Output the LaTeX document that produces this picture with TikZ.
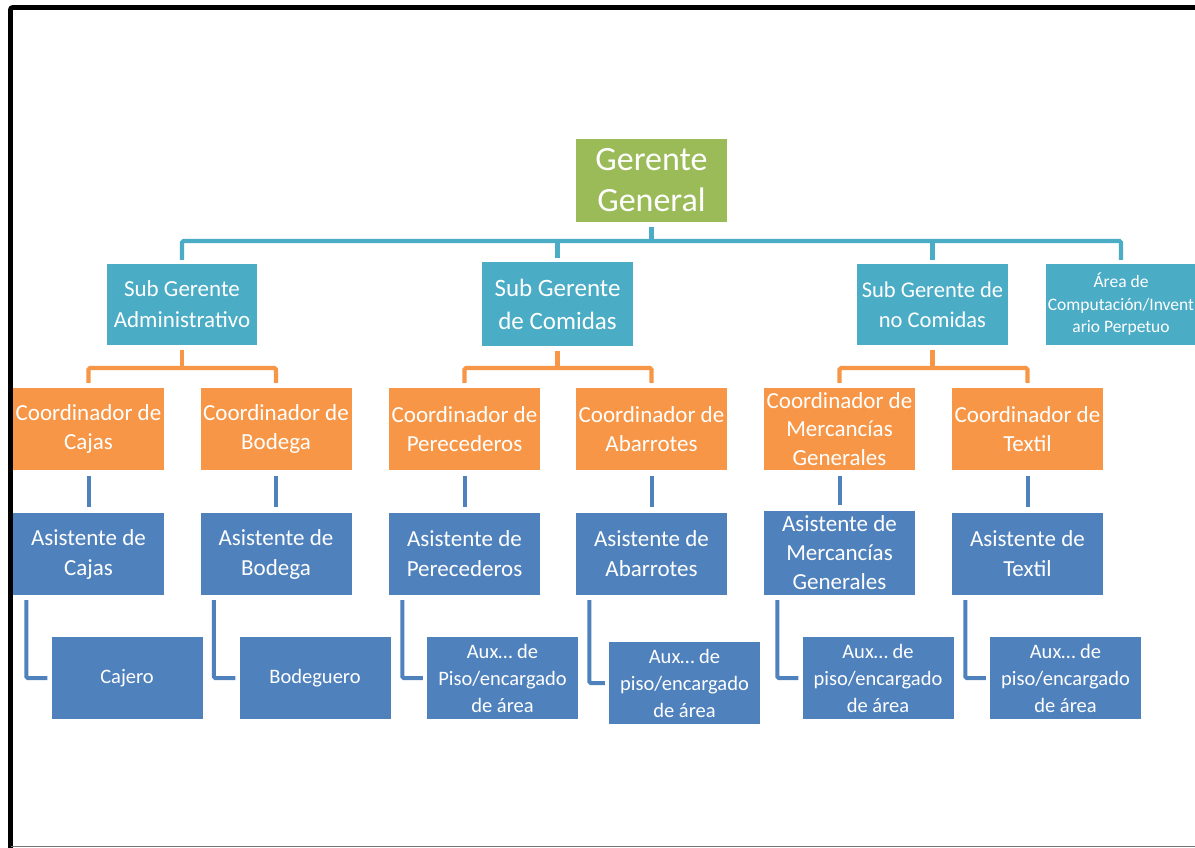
\documentclass[tikz,border=0pt]{standalone}
\usepackage{fontspec}
\setmainfont{Carlito}
\definecolor{cgreen}{HTML}{9BBB59}
\definecolor{cteal}{HTML}{4BACC6}
\definecolor{corange}{HTML}{F79646}
\definecolor{cblue}{HTML}{4F81BD}
\newcommand{\fs}[2]{\fontsize{#1}{#2}\selectfont}
\tikzset{
  box/.style={minimum width=151pt, minimum height=82pt, inner sep=0pt,
    align=center, text=white},
  gbox/.style={box, fill=cgreen, font=\fs{34}{41}},
  sbox/.style={box, fill=cteal, font=\fs{23}{31}},
  obox/.style={box, fill=corange, font=\fs{23}{28.5}},
  abox/.style={box, fill=cblue, font=\fs{23}{30}},
  xbox/.style={box, fill=cblue, font=\fs{20.5}{27}},
  tline/.style={draw=cteal, line width=4.2pt, rounded corners=1.5pt},
  oline/.style={draw=corange, line width=4.2pt, rounded corners=1.5pt},
  bline/.style={draw=cblue, line width=4pt, rounded corners=1.5pt},
}
\begin{document}
\begin{tikzpicture}[x=1pt, y=-1pt]
\useasboundingbox (0,0) rectangle (1195,848);
\clip (0,0) rectangle (1195,848);
\fill[white] (0,0) rectangle (1195,848);

% frame
\draw[black, line width=4.6pt, rounded corners=2pt] (10.5,848) -- (10.5,7.5) -- (1200,7.5);
\draw[black!55, line width=1.2pt] (10.5,846.5) -- (1195,846.5);

% top level
\node[gbox] (gg) at (651.5,180.5) {Gerente\\General};

% second level
\node[sbox, minimum width=150pt, minimum height=81pt] (sgA) at (182,304.5) {Sub Gerente\\Administrativo};
\node[sbox, minimum height=84pt, font=\fs{25}{33}] (sgC) at (557.5,304) {Sub Gerente\\de Comidas};
\node[sbox, minimum height=81pt, font=\fs{22.5}{30}] (sgN) at (932.5,304.5) {Sub Gerente de\\no Comidas};
\node[sbox, minimum width=150pt, minimum height=81pt, font=\fs{17.5}{22.5}] (area) at (1121,304.5) {Área de\\Computación/Invent\\ario Perpetuo};

% coordinators
\node[obox] (cCaj) at (88.5,429) {Coordinador de\\Cajas};
\node[obox] (cBod) at (276,429) {Coordinador de\\Bodega};
\node[obox] (cPer) at (464.5,429) {Coordinador de\\Perecederos};
\node[obox] (cAba) at (651.5,429) {Coordinador de\\Abarrotes};
\node[obox] (cMer) at (839.5,429) {Coordinador de\\Mercancías\\Generales};
\node[obox] (cTex) at (1027.5,429) {Coordinador de\\Textil};

% assistants
\node[abox] (aCaj) at (88.5,554) {Asistente de\\Cajas};
\node[abox] (aBod) at (276,554) {Asistente de\\Bodega};
\node[abox] (aPer) at (464.5,554) {Asistente de\\Perecederos};
\node[abox] (aAba) at (651.5,554) {Asistente de\\Abarrotes};
\node[abox, minimum height=84pt, font=\fs{23}{29}] (aMer) at (839.5,553) {Asistente de\\Mercancías\\Generales};
\node[abox] (aTex) at (1027.5,554) {Asistente de\\Textil};

% floor staff
\node[xbox] (xCaj) at (127,678) {Cajero};
\node[xbox] (xBod) at (315,678) {Bodeguero};
\node[xbox] (xPer) at (502.5,678) {Aux… de\\Piso/encargado\\de área};
\node[xbox] (xAba) at (684.5,683) {Aux… de\\piso/encargado\\de área};
\node[xbox] (xMer) at (878,678) {Aux… de\\piso/encargado\\de área};
\node[xbox] (xTex) at (1065.5,678) {Aux… de\\piso/encargado\\de área};

% teal connectors
\coordinate (bus) at (0,241);
\draw[tline] ([yshift=-5pt]gg.south) -- (gg.south |- bus);
\draw[tline] ([yshift=4pt]sgA.north) |- (bus -| area.north) -- ([yshift=4pt]area.north);
\draw[tline] (bus -| sgC.north) -- ([yshift=4pt]sgC.north);
\draw[tline] (bus -| sgN.north) -- ([yshift=4pt]sgN.north);

% orange connectors
\coordinate (obus) at (0,368);
\foreach \s/\l/\r in {sgA/cCaj/cBod, sgC/cPer/cAba, sgN/cMer/cTex}{
  \draw[oline] ([yshift=-5pt]\s.south) -- (\s.south |- obus);
  \draw[oline] ([yshift=5pt]\l.north) |- (obus -| \r.north) -- ([yshift=5pt]\r.north);
}

% coordinator to assistant
\foreach \c/\a in {cCaj/aCaj, cBod/aBod, cPer/aPer, cAba/aAba, cMer/aMer, cTex/aTex}{
  \draw[bline] ([yshift=-6pt]\c.south) -- ([yshift=6pt]\a.north);
}

% assistant to floor staff
\foreach \a/\x in {aCaj/xCaj, aBod/xBod, aPer/xPer, aAba/xAba, aMer/xMer, aTex/xTex}{
  \draw[bline] ([xshift=13.5pt,yshift=-5pt]\a.south west) |- ([xshift=-4pt]\x.west);
}
\end{tikzpicture}
\end{document}
